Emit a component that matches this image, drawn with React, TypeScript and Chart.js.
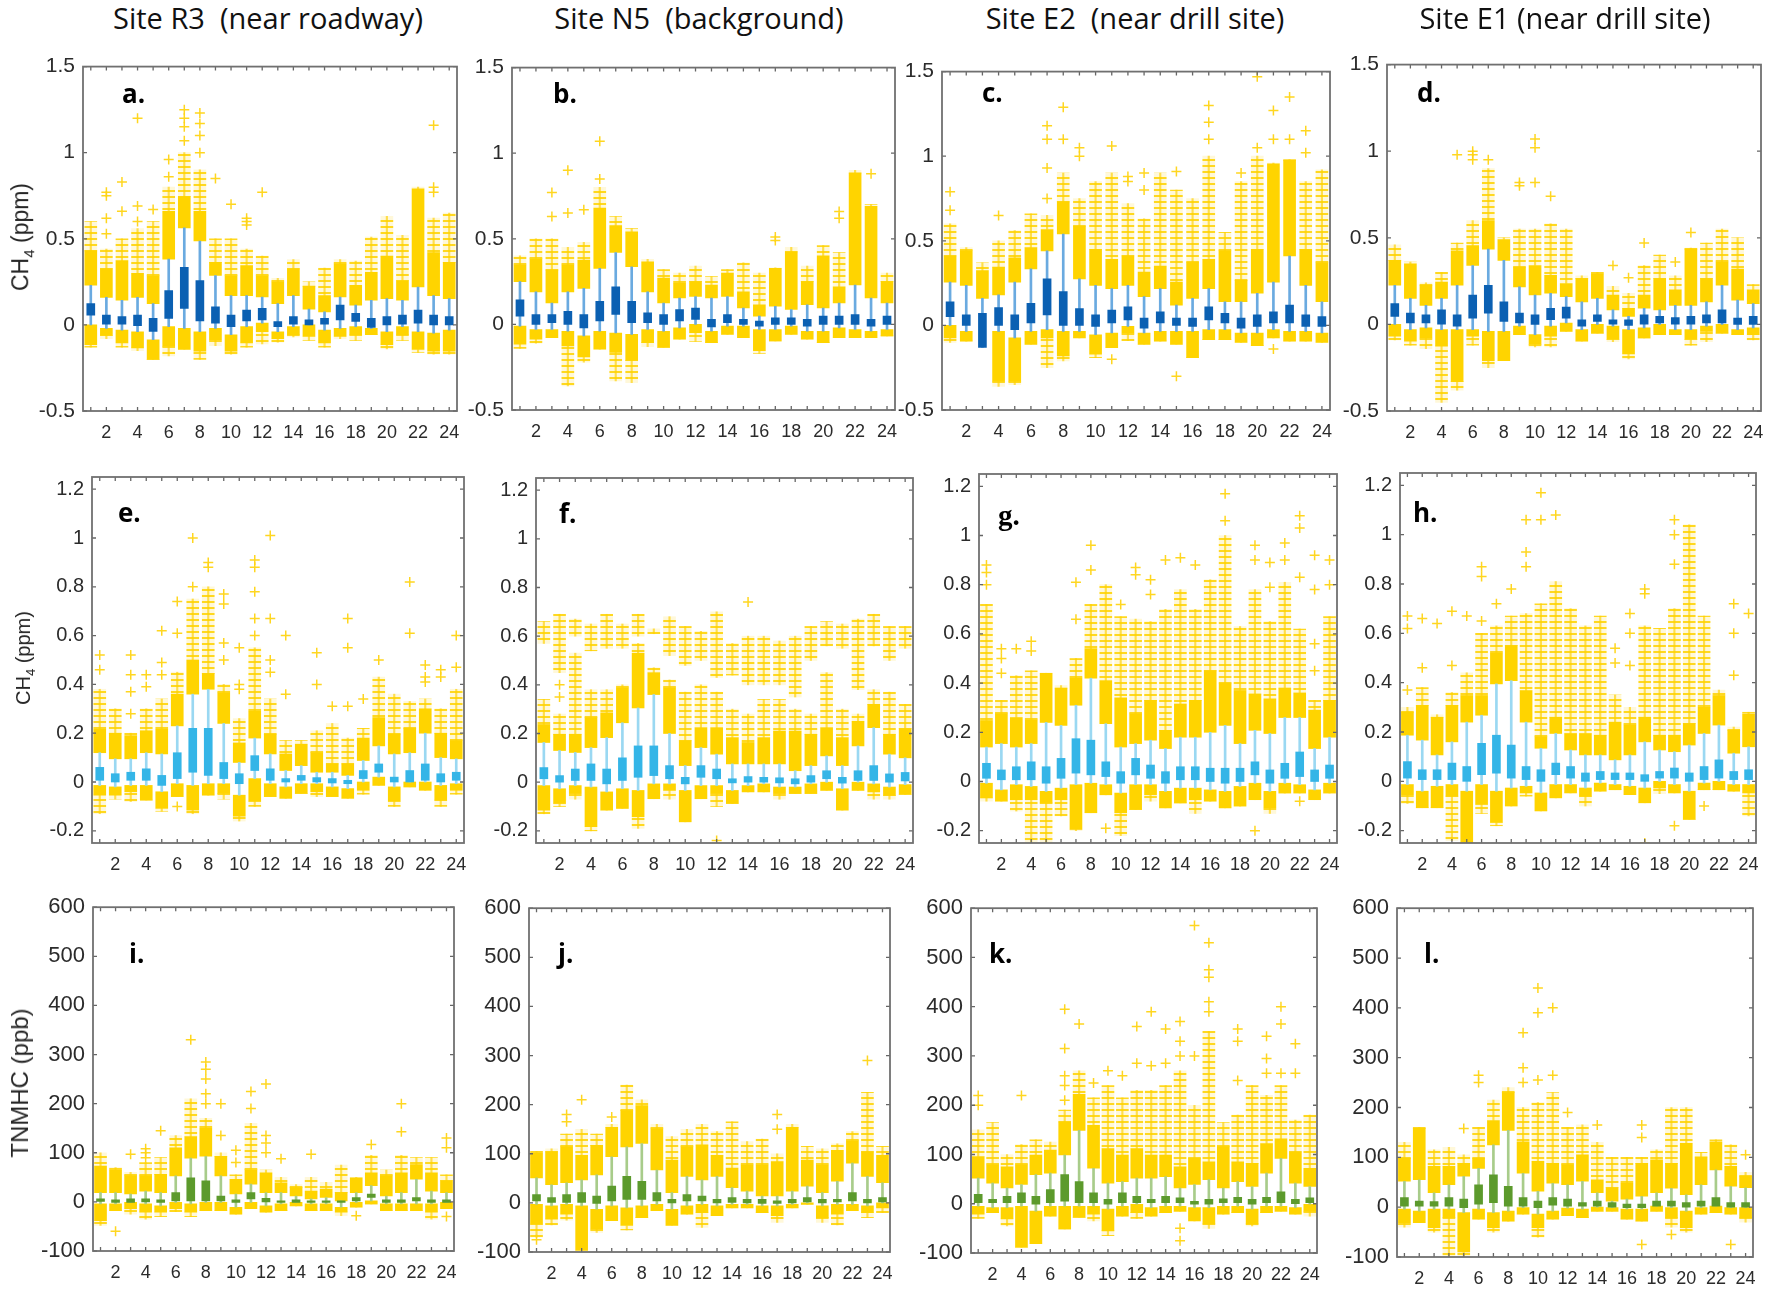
import React, { useEffect, useRef } from 'react';
import { Chart, registerables } from 'chart.js';
Chart.register(...registerables);

// ---------- categories & ticks ----------
const HOURS = [1, 2, 3, 4, 5, 6, 7, 8, 9, 10, 11, 12, 13, 14, 15, 16, 17, 18, 19, 20, 21, 22, 23, 24];
const X_TICKS = [2, 4, 6, 8, 10, 12, 14, 16, 18, 20, 22, 24];
const CH4_TICKS_TOP = [-0.5, 0, 0.5, 1, 1.5];
const CH4_TICKS_MID = [-0.2, 0, 0.2, 0.4, 0.6, 0.8, 1, 1.2];
const TNMHC_TICKS = [-100, 0, 100, 200, 300, 400, 500, 600];
const COLUMN_TITLES = ['Site R3  (near roadway)', 'Site N5  (background)', 'Site E2  (near drill site)', 'Site E1 (near drill site)'];
const PANEL_LETTERS = ['a.', 'b.', 'c.', 'd.', 'e.', 'f.', 'g.', 'h.', 'i.', 'j.', 'k.', 'l.'];

// ---------- panel a ----------
const aQ3 = [0.124, 0.057, 0.048, 0.057, 0.038, 0.2, 0.334, 0.258, 0.105, 0.057, 0.086, 0.096, 0.02, 0.048, 0.029, 0.038, 0.115, 0.067, 0.038, 0.048, 0.057, 0.086, 0.057, 0.048];
const aQ1 = [0.057, 0.004, 0.004, -0.004, -0.038, 0.038, 0.095, 0.023, 0.01, -0.01, 0.023, 0.029, -0.01, 0.004, 0, 0.004, 0.029, 0.02, -0.015, 0, 0.004, 0.01, 0, 0];
const aUpLo = [0.23, 0.16, 0.143, 0.16, 0.124, 0.382, 0.563, 0.487, 0.287, 0.17, 0.17, 0.162, 0.124, 0.17, 0.092, 0.076, 0.162, 0.115, 0.143, 0.153, 0.143, 0.22, 0.17, 0.153];
const aUpHi = [0.43, 0.325, 0.373, 0.3, 0.287, 0.66, 0.745, 0.66, 0.363, 0.287, 0.344, 0.287, 0.248, 0.325, 0.225, 0.17, 0.353, 0.23, 0.306, 0.4, 0.258, 0.79, 0.42, 0.363];
const aUpMax = [0.6, 0.44, 0.5, 0.56, 0.6, 0.8, 1.0, 0.9, 0.5, 0.5, 0.44, 0.4, 0.27, 0.38, 0.25, 0.33, 0.38, 0.37, 0.51, 0.63, 0.52, 0.8, 0.62, 0.65];
const aLoHi = [0, -0.02, -0.03, -0.04, -0.086, -0.01, -0.02, -0.04, -0.02, -0.057, -0.01, 0.01, -0.04, -0.01, 0, -0.03, -0.02, -0.01, -0.02, -0.04, -0.01, -0.04, -0.048, -0.03];
const aLoLo = [-0.115, -0.06, -0.105, -0.134, -0.2, -0.124, -0.143, -0.153, -0.086, -0.153, -0.105, -0.04, -0.08, -0.057, -0.067, -0.105, -0.067, -0.057, -0.057, -0.115, -0.057, -0.143, -0.153, -0.153];
const aLoMin = [-0.13, -0.08, -0.13, -0.15, -0.2, -0.18, -0.143, -0.2, -0.12, -0.17, -0.13, -0.11, -0.1, -0.07, -0.09, -0.13, -0.08, -0.09, -0.057, -0.14, -0.09, -0.16, -0.17, -0.17];
const aOut = [[2, 0.53], [2, 0.62], [2, 0.75], [2, 0.77], [3, 0.66], [3, 0.83], [4, 0.6], [4, 0.69], [4, 1.2], [5, 0.67], [6, 0.86], [6, 0.96], [7, 1.07], [7, 1.15], [7, 1.2], [7, 1.25], [8, 1.0], [8, 1.1], [8, 1.17], [8, 1.23], [9, 0.85], [10, 0.7], [11, 0.58], [11, 0.6], [11, 0.62], [12, 0.77], [23, 0.77], [23, 0.8], [23, 1.16]];

// ---------- panel b ----------
const bQ3 = [0.144, 0.058, 0.058, 0.077, 0.058, 0.135, 0.22, 0.135, 0.067, 0.058, 0.087, 0.096, 0.029, 0.058, 0.029, 0.02, 0.038, 0.038, 0.029, 0.048, 0.048, 0.058, 0.029, 0.048];
const bQ1 = [0.048, 0, 0.01, 0, -0.02, 0.02, 0.058, 0.01, 0.01, 0, 0.02, 0.029, -0.015, 0.01, 0, -0.01, 0, 0, -0.01, 0, 0, 0, -0.01, 0];
const bUpLo = [0.25, 0.19, 0.125, 0.19, 0.21, 0.327, 0.42, 0.337, 0.19, 0.125, 0.154, 0.163, 0.154, 0.163, 0.096, 0.048, 0.106, 0.087, 0.115, 0.096, 0.125, 0.23, 0.154, 0.125];
const bUpHi = [0.346, 0.385, 0.317, 0.346, 0.375, 0.68, 0.577, 0.54, 0.365, 0.27, 0.24, 0.25, 0.23, 0.3, 0.19, 0.115, 0.327, 0.423, 0.25, 0.4, 0.22, 0.885, 0.69, 0.25];
const bUpMax = [0.4, 0.5, 0.5, 0.45, 0.48, 0.8, 0.63, 0.56, 0.38, 0.32, 0.3, 0.34, 0.28, 0.32, 0.36, 0.3, 0.33, 0.45, 0.34, 0.46, 0.42, 0.9, 0.7, 0.3];
const bLoHi = [-0.01, -0.03, -0.03, -0.04, -0.067, -0.04, -0.05, -0.058, -0.03, -0.04, -0.02, 0, -0.04, -0.01, -0.01, -0.03, -0.03, -0.01, -0.04, -0.04, -0.02, -0.03, -0.04, -0.03];
const bLoLo = [-0.115, -0.087, -0.077, -0.125, -0.19, -0.145, -0.163, -0.21, -0.106, -0.135, -0.087, -0.048, -0.106, -0.058, -0.077, -0.154, -0.096, -0.058, -0.087, -0.106, -0.077, -0.077, -0.077, -0.067];
const bLoMin = [-0.14, -0.11, -0.077, -0.36, -0.22, -0.145, -0.33, -0.34, -0.13, -0.135, -0.087, -0.1, -0.106, -0.058, -0.077, -0.17, -0.096, -0.058, -0.087, -0.106, -0.077, -0.077, -0.077, -0.067];
const bOut = [[3, 0.63], [3, 0.77], [4, 0.65], [4, 0.9], [5, 0.67], [6, 0.85], [6, 1.07], [17, 0.49], [17, 0.51], [21, 0.62], [21, 0.66], [23, 0.88]];

// ---------- panel c ----------
const cQ3 = [0.14, 0.062, 0.072, 0.105, 0.062, 0.13, 0.275, 0.2, 0.1, 0.062, 0.09, 0.11, 0.043, 0.08, 0.043, 0.043, 0.11, 0.072, 0.043, 0.062, 0.08, 0.12, 0.062, 0.052];
const cQ1 = [0.052, 0, -0.13, 0, -0.025, 0.014, 0.062, 0, 0, -0.006, 0.014, 0.033, -0.016, 0.014, 0, -0.006, 0.033, 0.014, -0.016, -0.006, 0.014, 0.014, -0.006, -0.006];
const cUpLo = [0.256, 0.237, 0.16, 0.18, 0.256, 0.334, 0.44, 0.54, 0.275, 0.237, 0.217, 0.237, 0.17, 0.217, 0.12, 0.16, 0.217, 0.14, 0.14, 0.19, 0.256, 0.41, 0.237, 0.14];
const cUpHi = [0.41, 0.44, 0.324, 0.344, 0.4, 0.46, 0.567, 0.73, 0.586, 0.45, 0.39, 0.41, 0.315, 0.35, 0.256, 0.373, 0.39, 0.44, 0.266, 0.45, 0.955, 0.975, 0.45, 0.37];
const cUpMax = [0.6, 0.46, 0.37, 0.5, 0.56, 0.66, 0.65, 0.9, 0.75, 0.85, 0.9, 0.72, 0.63, 0.9, 0.8, 0.75, 1.0, 0.55, 0.85, 1.0, 0.96, 0.98, 0.85, 0.92];
const cLoHi = [0, -0.035, null, -0.035, -0.074, -0.035, -0.025, -0.035, -0.035, -0.055, -0.045, -0.006, -0.045, -0.035, -0.035, -0.035, -0.025, -0.025, -0.045, -0.045, -0.025, -0.035, -0.035, -0.045];
const cLoLo = [-0.074, -0.093, null, -0.33, -0.33, -0.113, -0.074, -0.18, -0.074, -0.17, -0.132, -0.045, -0.113, -0.093, -0.113, -0.19, -0.084, -0.084, -0.1, -0.12, -0.074, -0.093, -0.093, -0.1];
const cLoMin = [-0.1, -0.093, null, -0.36, -0.35, -0.113, -0.25, -0.21, -0.074, -0.19, -0.132, -0.09, -0.113, -0.093, -0.113, -0.19, -0.084, -0.084, -0.1, -0.12, -0.074, -0.093, -0.093, -0.1];
const cOut = [[1, 0.68], [1, 0.79], [4, 0.65], [7, 0.75], [7, 0.93], [7, 1.1], [7, 1.18], [8, 1.1], [8, 1.29], [9, 1.0], [9, 1.05], [11, 1.06], [11, -0.2], [12, 0.85], [12, 0.88], [13, 0.8], [13, 0.9], [15, 0.91], [15, -0.3], [17, 1.1], [17, 1.2], [17, 1.3], [19, 0.9], [20, 1.05], [20, 1.47], [21, 1.1], [21, 1.27], [21, -0.14], [22, 1.1], [22, 1.35], [23, 1.02], [23, 1.15]];

// ---------- panel d ----------
const dQ3 = [0.12, 0.065, 0.055, 0.084, 0.055, 0.17, 0.226, 0.13, 0.065, 0.055, 0.093, 0.1, 0.027, 0.055, 0.027, 0.027, 0.055, 0.046, 0.04, 0.046, 0.055, 0.084, 0.036, 0.046];
const dQ1 = [0.046, 0.008, 0.008, 0.002, -0.01, 0.036, 0.065, 0.017, 0.008, 0, 0.027, 0.036, -0.01, 0.017, 0.002, -0.006, 0.002, 0.008, 0.002, 0.002, 0.008, 0.008, 0, 0];
const dUpLo = [0.226, 0.15, 0.11, 0.15, 0.226, 0.34, 0.435, 0.37, 0.217, 0.17, 0.18, 0.16, 0.13, 0.15, 0.084, 0.046, 0.093, 0.084, 0.11, 0.11, 0.13, 0.226, 0.14, 0.12];
const dUpHi = [0.37, 0.35, 0.226, 0.245, 0.425, 0.455, 0.6, 0.49, 0.33, 0.34, 0.283, 0.236, 0.264, 0.29, 0.17, 0.093, 0.17, 0.264, 0.2, 0.435, 0.264, 0.36, 0.32, 0.2];
const dUpMax = [0.46, 0.36, 0.24, 0.3, 0.47, 0.6, 0.9, 0.5, 0.55, 0.55, 0.58, 0.55, 0.28, 0.3, 0.22, 0.18, 0.34, 0.4, 0.28, 0.44, 0.47, 0.55, 0.5, 0.23];
const dLoHi = [0, -0.03, -0.02, -0.03, -0.03, -0.03, -0.04, -0.04, -0.01, -0.059, -0.01, 0.008, -0.03, 0, -0.01, -0.03, -0.02, 0, -0.03, -0.03, -0.01, 0, -0.03, -0.02];
const dLoLo = [-0.068, -0.097, -0.078, -0.125, -0.33, -0.068, -0.21, -0.21, -0.059, -0.116, -0.068, -0.04, -0.097, -0.05, -0.087, -0.17, -0.078, -0.059, -0.059, -0.087, -0.04, -0.05, -0.059, -0.059];
const dLoMin = [-0.09, -0.12, -0.14, -0.45, -0.38, -0.12, -0.25, -0.21, -0.059, -0.13, -0.13, -0.04, -0.097, -0.05, -0.1, -0.2, -0.078, -0.059, -0.059, -0.12, -0.1, -0.05, -0.059, -0.09];
const dOut = [[5, 0.98], [6, 0.95], [6, 0.98], [6, 1.0], [7, 0.95], [9, 0.8], [9, 0.82], [10, 0.82], [10, 1.02], [10, 1.07], [11, 0.74], [15, 0.34], [16, 0.27], [17, 0.47], [19, 0.36], [20, 0.53]];

// ---------- panel e ----------
const eQ3 = [0.06, 0.034, 0.04, 0.054, 0.027, 0.12, 0.22, 0.22, 0.08, 0.034, 0.108, 0.054, 0.014, 0.027, 0.018, 0.014, 0.007, 0.047, 0.074, 0.02, 0.047, 0.074, 0.034, 0.04];
const eQ1 = [0.007, 0, 0.007, 0.007, -0.014, 0.014, 0.04, 0.027, 0.014, -0.007, 0.047, 0.007, 0, 0.007, 0, -0.004, -0.007, 0.014, 0.04, 0, 0, 0.007, 0, 0.007];
const eUpLo = [0.12, 0.095, 0.095, 0.12, 0.115, 0.23, 0.36, 0.38, 0.24, 0.08, 0.18, 0.115, 0.047, 0.067, 0.04, 0.04, 0.027, 0.088, 0.148, 0.115, 0.12, 0.2, 0.1, 0.095];
const eUpHi = [0.216, 0.2, 0.19, 0.21, 0.216, 0.36, 0.5, 0.445, 0.365, 0.16, 0.29, 0.196, 0.115, 0.155, 0.12, 0.074, 0.074, 0.18, 0.264, 0.196, 0.22, 0.3, 0.2, 0.17];
const eUpMax = [0.38, 0.3, 0.2, 0.3, 0.34, 0.45, 0.75, 0.8, 0.4, 0.26, 0.55, 0.34, 0.17, 0.17, 0.21, 0.24, 0.18, 0.22, 0.43, 0.36, 0.33, 0.34, 0.3, 0.38];
const eLoHi = [-0.014, -0.02, -0.014, -0.014, -0.04, -0.007, -0.014, -0.007, -0.007, -0.054, 0.014, -0.007, -0.02, -0.007, -0.007, -0.02, -0.027, 0, 0.02, -0.02, 0, 0, -0.014, -0.007];
const eLoLo = [-0.054, -0.054, -0.04, -0.074, -0.108, -0.06, -0.115, -0.054, -0.047, -0.14, -0.08, -0.06, -0.067, -0.047, -0.04, -0.06, -0.067, -0.034, -0.014, -0.08, -0.02, -0.034, -0.074, -0.034];
const eLoMin = [-0.13, -0.07, -0.08, -0.074, -0.12, -0.06, -0.13, -0.054, -0.07, -0.16, -0.1, -0.06, -0.067, -0.047, -0.06, -0.06, -0.067, -0.05, -0.014, -0.1, -0.02, -0.034, -0.1, -0.05];
const eOut = [[1, 0.46], [1, 0.52], [3, 0.28], [3, 0.37], [3, 0.44], [3, 0.52], [4, 0.39], [4, 0.44], [5, 0.44], [5, 0.49], [5, 0.62], [6, 0.61], [6, 0.74], [6, -0.1], [7, 0.8], [7, 1.0], [8, 0.88], [8, 0.9], [9, 0.5], [9, 0.57], [9, 0.73], [9, 0.77], [10, 0.38], [10, 0.4], [10, 0.55], [11, 0.6], [11, 0.67], [11, 0.78], [11, 0.88], [11, 0.91], [12, 0.45], [12, 0.5], [12, 0.67], [12, 1.01], [13, 0.36], [13, 0.6], [15, 0.4], [15, 0.53], [16, 0.31], [17, 0.31], [17, 0.55], [17, 0.67], [18, 0.34], [19, 0.5], [21, 0.61], [21, 0.82], [22, 0.41], [22, 0.43], [22, 0.48], [23, 0.43], [23, 0.46], [24, 0.47], [24, 0.6]];

// ---------- panel f ----------
const fQ3 = [0.06, 0.027, 0.054, 0.075, 0.054, 0.1, 0.149, 0.149, 0.068, 0.02, 0.068, 0.054, 0.014, 0.023, 0.02, 0.018, 0.014, 0.027, 0.047, 0.02, 0.047, 0.068, 0.034, 0.04];
const fQ1 = [0.014, 0, 0.007, 0.007, -0.007, 0.007, 0.02, 0.027, 0.014, -0.007, 0.02, 0.014, -0.003, 0, 0, -0.003, -0.007, 0, 0.014, -0.004, 0.007, 0.007, 0, 0.005];
const fUpLo = [0.163, 0.13, 0.122, 0.142, 0.183, 0.244, 0.305, 0.36, 0.2, 0.068, 0.142, 0.115, 0.075, 0.075, 0.075, 0.075, 0.047, 0.068, 0.108, 0.068, 0.149, 0.224, 0.115, 0.1];
const fUpHi = [0.237, 0.197, 0.197, 0.265, 0.285, 0.387, 0.53, 0.45, 0.387, 0.17, 0.224, 0.224, 0.183, 0.163, 0.183, 0.21, 0.21, 0.197, 0.224, 0.183, 0.25, 0.32, 0.197, 0.22];
const fUpMax = [0.34, 0.28, 0.53, 0.38, 0.38, 0.4, 0.57, 0.47, 0.42, 0.37, 0.4, 0.37, 0.3, 0.28, 0.34, 0.34, 0.3, 0.28, 0.45, 0.3, 0.28, 0.38, 0.37, 0.32];
const fHiLo = [0.57, 0.45, 0.6, 0.54, 0.55, 0.55, 0.6, 0.61, 0.52, 0.48, 0.5, 0.43, 0.44, 0.4, 0.4, 0.4, 0.35, 0.5, 0.56, 0.55, 0.38, 0.56, 0.5, 0.55];
const fHiHi = [0.66, 0.69, 0.67, 0.65, 0.69, 0.65, 0.69, 0.63, 0.68, 0.64, 0.62, 0.7, 0.57, 0.6, 0.6, 0.58, 0.6, 0.64, 0.66, 0.65, 0.67, 0.69, 0.64, 0.64];
const fLoHi = [-0.014, -0.027, -0.014, -0.02, -0.04, -0.027, -0.034, -0.007, -0.007, -0.034, -0.014, -0.014, -0.034, -0.014, -0.007, -0.02, -0.02, -0.007, 0, -0.027, 0, -0.007, -0.02, -0.01];
const fLoLo = [-0.115, -0.088, -0.047, -0.183, -0.115, -0.108, -0.142, -0.068, -0.034, -0.163, -0.068, -0.047, -0.088, -0.04, -0.04, -0.047, -0.047, -0.047, -0.034, -0.115, -0.034, -0.04, -0.054, -0.05];
const fLoMin = [-0.13, -0.1, -0.07, -0.2, -0.115, -0.108, -0.19, -0.068, -0.07, -0.163, -0.068, -0.1, -0.088, -0.04, -0.04, -0.07, -0.047, -0.047, -0.034, -0.115, -0.034, -0.07, -0.07, -0.05];
const fOut = [[2, 0.35], [2, 0.4], [12, -0.24], [14, 0.74]];

// ---------- panel g ----------
const gQ3 = [0.074, 0.047, 0.06, 0.08, 0.06, 0.094, 0.174, 0.168, 0.08, 0.04, 0.094, 0.067, 0.04, 0.06, 0.06, 0.054, 0.054, 0.054, 0.08, 0.047, 0.074, 0.12, 0.047, 0.067];
const gQ1 = [0.013, 0.007, 0.007, 0.007, -0.007, 0.013, 0.034, 0.027, 0.02, -0.007, 0.027, 0.013, -0.007, 0.007, 0.007, 0, -0.007, 0, 0.027, -0.007, 0.013, 0.02, 0, 0.013];
const gUpLo = [0.14, 0.154, 0.14, 0.154, 0.24, 0.228, 0.31, 0.42, 0.235, 0.14, 0.154, 0.168, 0.134, 0.18, 0.18, 0.2, 0.228, 0.154, 0.208, 0.195, 0.26, 0.26, 0.134, 0.18];
const gUpHi = [0.248, 0.275, 0.26, 0.25, 0.44, 0.38, 0.42, 0.54, 0.41, 0.34, 0.275, 0.33, 0.208, 0.315, 0.33, 0.45, 0.4, 0.37, 0.356, 0.336, 0.38, 0.36, 0.29, 0.33];
const gUpMax = [0.72, 0.33, 0.43, 0.45, 0.44, 0.39, 0.5, 0.72, 0.8, 0.67, 0.66, 0.65, 0.7, 0.78, 0.7, 0.82, 1.0, 0.63, 0.78, 0.65, 0.81, 0.62, 0.33, 0.67];
const gLoHi = [-0.007, -0.034, -0.013, -0.02, -0.04, -0.027, -0.013, -0.007, -0.013, -0.047, -0.013, -0.013, -0.04, -0.027, -0.027, -0.034, -0.04, -0.02, -0.007, -0.04, -0.007, -0.013, -0.034, -0.007];
const gLoLo = [-0.067, -0.08, -0.074, -0.074, -0.087, -0.074, -0.195, -0.127, -0.054, -0.127, -0.114, -0.054, -0.107, -0.087, -0.074, -0.08, -0.107, -0.1, -0.074, -0.107, -0.047, -0.047, -0.074, -0.047];
const gLoMin = [-0.08, -0.08, -0.12, -0.25, -0.25, -0.14, -0.2, -0.127, -0.054, -0.22, -0.114, -0.08, -0.107, -0.087, -0.13, -0.08, -0.107, -0.1, -0.074, -0.13, -0.047, -0.047, -0.074, -0.047];
const gOut = [[1, 0.8], [1, 0.85], [1, 0.88], [2, 0.44], [2, 0.5], [2, 0.54], [3, 0.54], [4, 0.53], [4, 0.57], [7, 0.66], [7, 0.81], [8, 0.86], [8, 0.96], [9, -0.19], [10, 0.72], [11, 0.84], [11, 0.87], [12, 0.76], [12, 0.82], [13, 0.9], [14, 0.91], [15, 0.88], [17, 1.06], [17, 1.17], [19, 0.9], [19, 0.96], [19, -0.2], [20, 0.79], [20, 0.89], [21, 0.9], [21, 0.97], [22, 0.83], [22, 1.03], [22, 1.08], [22, -0.08], [23, 0.45], [23, 0.56], [23, 0.78], [23, 0.92], [24, 0.8], [24, 0.9]];

// ---------- panel h ----------
const hQ3 = [0.08, 0.047, 0.047, 0.074, 0.06, 0.154, 0.187, 0.147, 0.06, 0.047, 0.074, 0.06, 0.034, 0.04, 0.034, 0.034, 0.027, 0.04, 0.054, 0.034, 0.06, 0.087, 0.04, 0.047];
const hQ1 = [0.013, 0.007, 0.007, 0.007, 0, 0.027, 0.033, 0.013, 0.007, 0, 0.027, 0.013, 0, 0.007, 0.007, 0.007, 0, 0.013, 0.013, 0, 0.007, 0.013, 0.007, 0.007];
const hUpLo = [0.187, 0.167, 0.107, 0.16, 0.24, 0.268, 0.395, 0.408, 0.24, 0.134, 0.194, 0.127, 0.107, 0.107, 0.087, 0.107, 0.16, 0.127, 0.12, 0.147, 0.194, 0.228, 0.114, 0.14];
const hUpHi = [0.28, 0.308, 0.26, 0.308, 0.348, 0.348, 0.52, 0.55, 0.368, 0.18, 0.26, 0.194, 0.194, 0.187, 0.24, 0.228, 0.26, 0.187, 0.187, 0.234, 0.3, 0.348, 0.207, 0.274];
const hUpMax = [0.3, 0.38, 0.27, 0.36, 0.44, 0.6, 0.63, 0.67, 0.68, 0.72, 0.81, 0.7, 0.63, 0.67, 0.35, 0.3, 0.63, 0.62, 0.7, 1.04, 0.67, 0.37, 0.22, 0.28];
const hLoHi = [-0.013, -0.04, -0.02, -0.013, -0.04, -0.013, -0.04, -0.027, -0.02, -0.047, -0.013, -0.013, -0.027, -0.007, -0.013, -0.02, -0.027, 0, -0.013, -0.04, -0.007, 0, -0.013, -0.013];
const hLoLo = [-0.054, -0.107, -0.107, -0.06, -0.25, -0.094, -0.167, -0.1, -0.047, -0.12, -0.067, -0.047, -0.06, -0.04, -0.034, -0.054, -0.087, -0.027, -0.047, -0.154, -0.034, -0.034, -0.04, -0.047];
const hLoMin = [-0.09, -0.107, -0.107, -0.24, -0.26, -0.13, -0.18, -0.1, -0.06, -0.12, -0.067, -0.047, -0.1, -0.04, -0.034, -0.054, -0.087, -0.05, -0.047, -0.154, -0.034, -0.034, -0.04, -0.14];
const hOut = [[1, 0.37], [1, 0.62], [1, 0.67], [2, 0.46], [2, 0.66], [3, 0.64], [4, 0.47], [4, 0.69], [5, 0.67], [6, 0.65], [6, 0.83], [6, 0.87], [7, 0.72], [8, 0.78], [9, 0.87], [9, 0.93], [9, 1.06], [10, 1.06], [10, 1.17], [11, 1.08], [15, 0.48], [15, 0.54], [16, 0.47], [16, 0.6], [16, 0.68], [17, 0.76], [17, 0.78], [17, -0.25], [19, 0.88], [19, 1.0], [19, 1.06], [19, -0.18], [21, -0.1], [23, 0.43], [23, 0.6], [23, 0.72], [24, 0.68]];

// ---------- panel i ----------
const iQ3 = [6, 4, 6, 6, 4, 19, 49, 43, 12, 4, 19, 7, 2, 4, 2, 2, 2, 9, 16, 4, 4, 9, 4, 4];
const iQ1 = [1, -1, -1, 0, -1, 2, 2, 2, 2, -1, 6, 0, -1, -1, -1, -1, -1, 2, 9, -1, -1, 2, -1, -1];
const iUpLo = [19, 19, 16, 22, 19, 53, 89, 93, 53, 16, 36, 19, 19, 12, 6, 9, 2, 19, 33, 12, 19, 46, 22, 19];
const iUpHi = [73, 64, 53, 53, 56, 110, 133, 150, 93, 46, 66, 59, 39, 29, 22, 26, 19, 49, 59, 53, 59, 76, 59, 43];
const iUpMax = [100, 70, 60, 80, 90, 135, 210, 170, 100, 55, 160, 65, 50, 35, 50, 40, 75, 50, 95, 65, 95, 90, 90, 55];
const iLoHi = [-4, -4, -1, -4, -8, -1, -4, -1, -1, -11, -1, -8, -4, -1, -4, -4, -11, -1, 2, -4, -4, -4, -4, -1];
const iLoLo = [-38, -18, -14, -21, -21, -14, -21, -18, -18, -25, -14, -21, -18, -8, -18, -18, -21, -11, -4, -18, -18, -18, -21, -14];
const iLoMin = [-48, -18, -25, -35, -30, -20, -30, -18, -18, -25, -14, -21, -18, -8, -18, -18, -28, -11, -4, -18, -18, -18, -35, -14];
const iOut = [[2, -60], [3, 97], [4, 90], [4, 100], [4, 108], [5, 145], [7, 330], [8, 200], [8, 220], [8, 250], [8, 270], [8, 285], [9, 135], [9, 200], [10, 80], [10, 105], [11, 190], [11, 225], [12, 100], [12, 120], [12, 135], [12, 240], [13, 88], [15, 97], [18, -28], [19, 117], [21, 143], [21, 200], [24, 110], [24, 130], [24, -30]];

// ---------- panel j ----------
const jQ3 = [17, 11, 17, 21, 14, 34, 54, 44, 21, 7, 17, 14, 7, 11, 7, 7, 4, 7, 11, 7, 7, 21, 7, 11];
const jQ1 = [4, 1, 1, 1, -1, 4, 7, 7, 4, 0, 4, 4, 0, 1, 0, -1, -1, 0, 2, 0, 2, 4, 0, 2];
const jUpLo = [51, 37, 41, 47, 57, 94, 114, 121, 67, 21, 54, 47, 54, 31, 24, 14, 14, 24, 34, 21, 44, 81, 54, 41];
const jUpHi = [101, 104, 114, 97, 117, 154, 188, 198, 151, 87, 114, 118, 97, 71, 77, 77, 84, 154, 87, 77, 107, 127, 104, 97];
const jUpMax = [105, 110, 140, 150, 140, 160, 240, 210, 160, 135, 150, 160, 145, 165, 125, 130, 100, 160, 115, 110, 120, 145, 225, 115];
const jLoHi = [-3, -6, -3, -6, -13, -6, -10, -6, -3, -13, -6, -3, -6, -3, -3, -6, -6, -3, 0, -6, -3, -3, -6, 0];
const jLoLo = [-43, -33, -23, -97, -53, -36, -46, -30, -16, -46, -23, -20, -26, -10, -10, -20, -26, -10, -3, -30, -23, -16, -20, -10];
const jLoMin = [-70, -45, -35, -97, -60, -36, -55, -30, -16, -46, -23, -50, -26, -10, -10, -20, -40, -10, -3, -40, -45, -16, -30, -20];
const jOut = [[1, -75], [3, 165], [3, 180], [4, 210], [6, 175], [17, 150], [17, 180], [23, 290]];

// ---------- panel k ----------
const kQ3 = [19, 9, 15, 22, 15, 29, 59, 45, 22, 9, 22, 15, 9, 15, 12, 5, 9, 10, 13, 9, 13, 24, 9, 12];
const kQ1 = [2, 2, 2, 2, -1, 2, 5, 2, 2, -1, 2, 2, 2, 2, 2, -1, -1, 2, 2, -1, 2, 2, 0, 2];
const kUpLo = [52, 42, 32, 39, 59, 62, 99, 149, 72, 42, 45, 52, 52, 55, 32, 39, 49, 32, 45, 35, 62, 92, 42, 35];
const kUpHi = [96, 79, 75, 79, 99, 109, 166, 222, 159, 112, 99, 112, 99, 99, 75, 92, 85, 116, 85, 82, 122, 132, 105, 72];
const kUpMax = [150, 165, 100, 120, 130, 125, 190, 270, 215, 240, 215, 230, 230, 240, 270, 200, 350, 165, 180, 240, 220, 240, 170, 180];
const kLoHi = [-5, -8, -8, -5, -15, -5, -5, -5, -5, -11, -5, -1, -8, -5, -5, -8, -8, -5, -5, -11, -5, -5, -8, -1];
const kLoLo = [-21, -18, -31, -88, -81, -25, -51, -28, -21, -55, -25, -18, -25, -18, -15, -35, -41, -21, -18, -41, -18, -15, -21, -15];
const kLoMin = [-30, -18, -45, -88, -81, -25, -51, -28, -35, -65, -25, -30, -25, -18, -15, -35, -50, -21, -18, -45, -18, -15, -21, -25];
const kOut = [[1, 200], [1, 220], [4, 220], [7, 210], [7, 240], [7, 260], [7, 315], [7, 395], [8, 365], [9, 245], [10, 270], [11, 260], [12, 285], [12, 360], [13, 280], [13, 390], [14, 285], [14, 355], [15, 300], [15, 330], [15, 370], [15, -50], [15, -75], [16, 300], [16, 565], [17, 390], [17, 410], [17, 460], [17, 475], [17, 530], [19, 250], [19, 330], [19, 355], [21, 265], [21, 295], [21, 340], [22, 265], [22, 365], [22, 400], [23, 265], [23, 325]];

// ---------- panel l ----------
const lQ3 = [19, 12, 11, 19, 16, 45, 65, 42, 19, 12, 19, 16, 9, 12, 9, 6, 6, 12, 12, 9, 12, 19, 9, 9];
const lQ1 = [2, 2, 2, 2, -1, 6, 9, 2, 2, -1, 4, 2, 2, 2, 0, -1, -1, 2, 2, 0, 2, 2, 0, 0];
const lUpLo = [52, 55, 29, 45, 62, 78, 125, 154, 68, 32, 48, 45, 52, 29, 12, 16, 22, 29, 38, 25, 45, 75, 42, 39];
const lUpHi = [98, 158, 82, 82, 88, 98, 174, 230, 131, 92, 88, 85, 105, 55, 39, 48, 88, 95, 88, 128, 101, 131, 82, 62];
const lUpMax = [130, 160, 115, 120, 105, 160, 215, 240, 200, 210, 230, 160, 165, 130, 100, 100, 100, 115, 200, 200, 110, 135, 125, 70];
const lLoHi = [-4, -8, -4, -4, -11, -4, -11, -8, -1, -14, -8, -2, -4, 0, -1, -4, -4, 2, -1, -8, -1, 2, -1, -1];
const lLoLo = [-31, -31, -41, -21, -90, -24, -41, -28, -14, -41, -24, -17, -21, -8, -8, -24, -28, -8, -21, -41, -14, -11, -14, -21];
const lLoMin = [-40, -31, -50, -100, -100, -24, -50, -28, -14, -60, -24, -17, -21, -8, -8, -24, -28, -8, -40, -50, -14, -11, -14, -30];
const lOut = [[5, 158], [6, 250], [6, 265], [9, 250], [9, 280], [9, 350], [10, 255], [10, 390], [10, 440], [11, 265], [11, 400], [12, 190], [14, 165], [17, 140], [17, 165], [17, -75], [19, -55], [23, -75], [24, 105]];

// ---------- styling / layout ----------
const YELLOW = '#FFD400';
const STEM = 'rgba(255,214,30,0.75)';
const CROSS = 'rgba(255,212,20,0.95)';
const ROWS = [
  { min: -0.5, max: 1.5, ticks: CH4_TICKS_TOP, box: '#0B60B2', whisk: '#6AAAE0', yFont: 21 },
  { min: -0.25, max: 1.25, ticks: CH4_TICKS_MID, box: '#34B5E7', whisk: '#9AD8F2', yFont: 20 },
  { min: -100, max: 600, ticks: TNMHC_TICKS, box: '#5C9A2C', whisk: '#A8CC8A', yFont: 22 },
];

const PANELS = [
  { row: 0, rect: [83, 62, 457, 411], q1: aQ1, q3: aQ3, upLo: aUpLo, upHi: aUpHi, upMax: aUpMax, loHi: aLoHi, loLo: aLoLo, loMin: aLoMin, out: aOut, letter: [122, 103] },
  { row: 0, rect: [512, 63, 895, 410], q1: bQ1, q3: bQ3, upLo: bUpLo, upHi: bUpHi, upMax: bUpMax, loHi: bLoHi, loLo: bLoLo, loMin: bLoMin, out: bOut, letter: [553, 103] },
  { row: 0, rect: [942, 67, 1330, 410], q1: cQ1, q3: cQ3, upLo: cUpLo, upHi: cUpHi, upMax: cUpMax, loHi: cLoHi, loLo: cLoLo, loMin: cLoMin, out: cOut, letter: [982, 102] },
  { row: 0, rect: [1387, 60, 1761, 411], q1: dQ1, q3: dQ3, upLo: dUpLo, upHi: dUpHi, upMax: dUpMax, loHi: dLoHi, loLo: dLoLo, loMin: dLoMin, out: dOut, letter: [1417, 102] },
  { row: 1, rect: [92, 473, 464, 843], q1: eQ1, q3: eQ3, upLo: eUpLo, upHi: eUpHi, upMax: eUpMax, loHi: eLoHi, loLo: eLoLo, loMin: eLoMin, out: eOut, letter: [118, 522] },
  { row: 1, rect: [536, 474, 913, 843], q1: fQ1, q3: fQ3, upLo: fUpLo, upHi: fUpHi, upMax: fUpMax, loHi: fLoHi, loLo: fLoLo, loMin: fLoMin, out: fOut, hiLo: fHiLo, hiHi: fHiHi, letter: [559, 523] },
  { row: 1, rect: [979, 470, 1337, 843], q1: gQ1, q3: gQ3, upLo: gUpLo, upHi: gUpHi, upMax: gUpMax, loHi: gLoHi, loLo: gLoLo, loMin: gLoMin, out: gOut, letter: [998, 524], serif: true },
  { row: 1, rect: [1400, 469, 1756, 843], q1: hQ1, q3: hQ3, upLo: hUpLo, upHi: hUpHi, upMax: hUpMax, loHi: hLoHi, loLo: hLoLo, loMin: hLoMin, out: hOut, letter: [1413, 522] },
  { row: 2, rect: [93, 902, 454, 1251], q1: iQ1, q3: iQ3, upLo: iUpLo, upHi: iUpHi, upMax: iUpMax, loHi: iLoHi, loLo: iLoLo, loMin: iLoMin, out: iOut, letter: [129, 963] },
  { row: 2, rect: [529, 903, 890, 1252], q1: jQ1, q3: jQ3, upLo: jUpLo, upHi: jUpHi, upMax: jUpMax, loHi: jLoHi, loLo: jLoLo, loMin: jLoMin, out: jOut, letter: [558, 963] },
  { row: 2, rect: [971, 903, 1317, 1253], q1: kQ1, q3: kQ3, upLo: kUpLo, upHi: kUpHi, upMax: kUpMax, loHi: kLoHi, loLo: kLoLo, loMin: kLoMin, out: kOut, letter: [989, 963] },
  { row: 2, rect: [1397, 903, 1753, 1257], q1: lQ1, q3: lQ3, upLo: lUpLo, upHi: lUpHi, upMax: lUpMax, loHi: lLoHi, loLo: lLoLo, loMin: lLoMin, out: lOut, letter: [1424, 963] },
];

const TITLE_X = [268, 699, 1135, 1565];
const Y_W = 64, PAD_T = 16, PAD_R = 16, X_H = 42;
const TICK_FONT = 'Liberation Sans, Arial, Helvetica, sans-serif';

function makeStripe(ctx: CanvasRenderingContext2D) {
  const c = document.createElement('canvas');
  c.width = 12; c.height = 6;
  const g = c.getContext('2d')!;
  g.fillStyle = 'rgba(255,214,20,0.16)';
  g.fillRect(0, 0, 12, 6);
  g.fillStyle = 'rgba(255,210,0,0.85)';
  g.fillRect(0, 0, 12, 2);
  return ctx.createPattern(c, 'repeat');
}

const fmt = (v: number) => String(Math.round(v * 1000) / 1000);

const framePlugin = {
  id: 'frame',
  afterDraw(chart: any, _args: any, opts: any) {
    const { ctx, chartArea: a, scales } = chart;
    const x = scales.x, y = scales.y;
    ctx.save();
    ctx.strokeStyle = '#666';
    ctx.lineWidth = 1.3;
    ctx.beginPath();
    for (const h of HOURS) {
      const px = x.getPixelForValue(h);
      ctx.moveTo(px, a.bottom); ctx.lineTo(px, a.bottom - 4);
      ctx.moveTo(px, a.top); ctx.lineTo(px, a.top + 4);
    }
    for (const v of opts.yTicks) {
      const py = y.getPixelForValue(v);
      ctx.moveTo(a.left, py); ctx.lineTo(a.left + 4, py);
      ctx.moveTo(a.right, py); ctx.lineTo(a.right - 4, py);
    }
    ctx.stroke();
    ctx.lineWidth = 1.8;
    ctx.strokeStyle = '#707070';
    ctx.strokeRect(a.left, a.top, a.right - a.left, a.bottom - a.top);
    ctx.restore();
  },
};

function Panel({ p }: { p: any }) {
  const ref = useRef<HTMLCanvasElement>(null);
  const [L, T, R, B] = p.rect;
  const W = R - L + Y_W + PAD_R;
  const H = B - T + PAD_T + X_H;
  useEffect(() => {
    const canvas = ref.current!;
    const ctx = canvas.getContext('2d')!;
    const row = ROWS[p.row];
    const stripe = makeStripe(ctx);
    const mk = (lo: any[], hi: any[], color: any, thick: number, order: number) => ({
      type: 'bar',
      data: HOURS.map((h, i) => (lo[i] == null || hi[i] == null ? null : { x: h, y: [lo[i], hi[i]] })).filter(Boolean),
      backgroundColor: color,
      borderWidth: 0,
      barThickness: thick,
      grouped: false,
      order,
      clip: 0,
    });
    const whiskLo = HOURS.map((_h, i) => (p.loHi[i] == null ? p.q1[i] : p.loHi[i]));
    const datasets: any[] = [
      mk(p.q1, p.q3, row.box, 8, 1),
      mk(whiskLo, p.upLo, row.whisk, 2, 2),
      mk(p.upLo, p.upHi, YELLOW, 12, 3),
      mk(p.loLo, p.loHi, YELLOW, 12, 3),
      mk(p.upHi, p.upMax, stripe, 12, 4),
      mk(p.upHi, p.upMax, STEM, 1.5, 4),
      mk(p.loMin, p.loLo, stripe, 12, 4),
      mk(p.loMin, p.loLo, STEM, 1.5, 4),
    ];
    if (p.hiLo) {
      datasets.push(mk(p.hiLo, p.hiHi, stripe, 12, 4), mk(p.hiLo, p.hiHi, STEM, 1.5, 4));
    }
    datasets.push({
      type: 'scatter',
      data: p.out.map(([h, v]: number[]) => ({ x: h, y: v })),
      pointStyle: 'cross',
      pointRadius: 5,
      pointBorderWidth: 1.5,
      borderColor: CROSS,
      backgroundColor: CROSS,
      order: 0,
      clip: 0,
    });
    const chart = new Chart(canvas, {
      type: 'bar',
      data: { datasets },
      options: {
        animation: false,
        responsive: false,
        maintainAspectRatio: false,
        events: [],
        layout: { padding: { left: 0, top: PAD_T, right: PAD_R, bottom: 0 } },
        plugins: { legend: { display: false }, tooltip: { enabled: false }, frame: { yTicks: row.ticks } } as any,
        scales: {
          x: {
            type: 'linear',
            min: 0.5,
            max: 24.5,
            offset: false,
            grid: { display: false, drawTicks: false },
            border: { display: false },
            afterBuildTicks: (ax: any) => { ax.ticks = X_TICKS.map((v) => ({ value: v })); },
            afterFit: (s: any) => { s.height = X_H; },
            ticks: { autoSkip: false, maxRotation: 0, padding: 11, color: '#2b2b2b', font: { family: TICK_FONT, size: 18 }, callback: (v: any) => String(v) },
          },
          y: {
            type: 'linear',
            min: row.min,
            max: row.max,
            grid: { display: false, drawTicks: false },
            border: { display: false },
            afterBuildTicks: (ax: any) => { ax.ticks = row.ticks.map((v) => ({ value: v })); },
            afterFit: (s: any) => { s.width = Y_W; },
            ticks: { autoSkip: false, padding: 8, color: '#2b2b2b', font: { family: TICK_FONT, size: row.yFont }, callback: (v: any) => fmt(v) },
          },
        },
      } as any,
      plugins: [framePlugin as any],
    });
    return () => chart.destroy();
  }, []);
  return (
    <canvas
      ref={ref}
      width={W}
      height={H}
      style={{ position: 'absolute', left: L - Y_W, top: T - PAD_T, width: W, height: H }}
    />
  );
}

export default function App() {
  return (
    <div style={{ position: 'absolute', left: 0, top: 0, width: 1770, height: 1295, background: '#fff', overflow: 'hidden' }}>
      {PANELS.map((p, i) => <Panel key={i} p={p} />)}
      {COLUMN_TITLES.map((t, i) => (
        <div key={'t' + i} style={{ position: 'absolute', left: TITLE_X[i], top: 1, transform: 'translateX(-50%)', whiteSpace: 'pre', fontFamily: 'Open Sans, Noto Sans, sans-serif', fontSize: 29, lineHeight: '34px', color: '#111' }}>{t}</div>
      ))}
      {PANELS.map((p, i) => (
        <div key={'l' + i} style={{ position: 'absolute', left: p.letter[0], top: p.letter[1] - 23, fontFamily: p.serif ? 'Liberation Serif, Times New Roman, serif' : 'Open Sans, Noto Sans, sans-serif', fontWeight: 700, fontSize: p.serif ? 29 : 26, lineHeight: 1, color: '#000' }}>{PANEL_LETTERS[i]}</div>
      ))}
      <div style={{ position: 'absolute', left: 22, top: 237, transform: 'translate(-50%,-50%) rotate(-90deg)', whiteSpace: 'nowrap', fontFamily: TICK_FONT, fontSize: 23, color: '#262626' }}>CH<sub style={{ fontSize: 15 }}>4</sub> (ppm)</div>
      <div style={{ position: 'absolute', left: 25, top: 658, transform: 'translate(-50%,-50%) rotate(-90deg)', whiteSpace: 'nowrap', fontFamily: TICK_FONT, fontSize: 20, color: '#262626' }}>CH<sub style={{ fontSize: 13 }}>4</sub> (ppm)</div>
      <div style={{ position: 'absolute', left: 20, top: 1083, transform: 'translate(-50%,-50%) rotate(-90deg)', whiteSpace: 'nowrap', fontFamily: TICK_FONT, fontSize: 24, color: '#262626' }}>TNMHC (ppb)</div>
    </div>
  );
}
